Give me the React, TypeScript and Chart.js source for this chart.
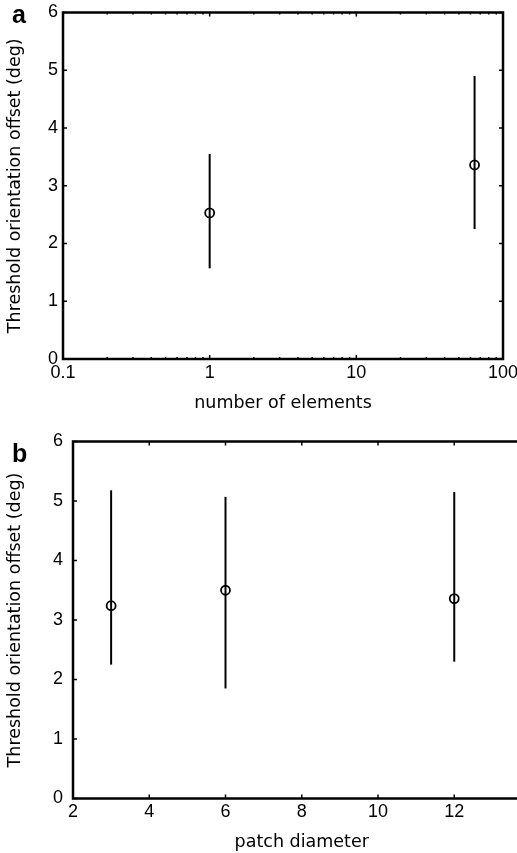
import React, { useEffect, useRef } from "react";
import { Chart, registerables } from "chart.js";

Chart.register(...registerables);

// ---------- data ----------
const nElements = [1, 64];
const offsetA = [2.53, 3.36];
const lowerA = [1.57, 2.25];
const upperA = [3.55, 4.9];
const xTickLabelsA = [0.1, 1, 10, 100];

const patchDiameter = [3, 6, 12];
const offsetB = [3.24, 3.5, 3.36];
const lowerB = [2.25, 1.85, 2.3];
const upperB = [5.18, 5.07, 5.15];
const xTickLabelsB = [2, 4, 6, 8, 10, 12, 14];

const yTickLabels = [0, 1, 2, 3, 4, 5, 6];

const Y_TITLE = "Threshold orientation offset (deg)";
const X_TITLE_A = "number of elements";
const X_TITLE_B = "patch diameter";

const TICK_FONT = { family: '"Liberation Sans", Arial, sans-serif', size: 18 };
const TITLE_FONT = { family: '"DejaVu Sans", sans-serif', size: 17.5 };

function isMajor(v: number, majors: number[]) {
  return majors.some((m) => Math.abs(m - v) < 1e-9 * Math.max(1, Math.abs(m)));
}

function makePlugin(letter: string, lx: number, ly: number, lower: number[], upper: number[], xMajors: number[]) {
  return {
    id: "frame_" + letter,
    beforeDatasetsDraw(chart: any) {
      const { ctx, scales } = chart;
      const x = scales.x;
      const y = scales.y;
      const pts = chart.data.datasets[0].data;
      ctx.save();
      ctx.strokeStyle = "#000";
      ctx.lineWidth = 2;
      pts.forEach((p: any, i: number) => {
        const px = x.getPixelForValue(p.x);
        ctx.beginPath();
        ctx.moveTo(px, y.getPixelForValue(lower[i]));
        ctx.lineTo(px, y.getPixelForValue(upper[i]));
        ctx.stroke();
      });
      ctx.restore();
    },
    afterDraw(chart: any) {
      const { ctx, chartArea: ca, scales } = chart;
      const x = scales.x;
      const y = scales.y;
      ctx.save();
      ctx.strokeStyle = "#000";
      ctx.lineWidth = 2.5;
      ctx.strokeRect(ca.left, ca.top, ca.right - ca.left, ca.bottom - ca.top);
      ctx.lineWidth = 1.5;
      x.ticks.forEach((t: any) => {
        const px = x.getPixelForValue(t.value);
        const len = isMajor(t.value, xMajors) ? 4 : 2;
        ctx.beginPath();
        ctx.moveTo(px, ca.bottom);
        ctx.lineTo(px, ca.bottom - len);
        ctx.moveTo(px, ca.top);
        ctx.lineTo(px, ca.top + len);
        ctx.stroke();
      });
      y.ticks.forEach((t: any) => {
        const py = y.getPixelForValue(t.value);
        ctx.beginPath();
        ctx.moveTo(ca.left, py);
        ctx.lineTo(ca.left + 4, py);
        ctx.moveTo(ca.right, py);
        ctx.lineTo(ca.right - 4, py);
        ctx.stroke();
      });
      ctx.fillStyle = "#000";
      ctx.font = 'bold 25px "Liberation Sans", Arial, sans-serif';
      ctx.textBaseline = "alphabetic";
      ctx.textAlign = "left";
      ctx.fillText(letter, lx, ly);
      ctx.restore();
    },
  };
}

function fixedWidth(w: number) {
  return (s: any) => {
    s.width = w;
    s.paddingLeft = 0;
    s.paddingRight = 0;
    s.paddingTop = 0;
    s.paddingBottom = 0;
  };
}
function fixedHeight(h: number) {
  return (s: any) => {
    s.height = h;
    s.paddingLeft = 0;
    s.paddingRight = 0;
    s.paddingTop = 0;
    s.paddingBottom = 0;
  };
}

function pointDataset(xs: number[], ys: number[]) {
  return {
    data: xs.map((x, i) => ({ x, y: ys[i] })),
    showLine: false,
    pointStyle: "circle",
    pointRadius: 4.5,
    pointBorderWidth: 1.8,
    pointBorderColor: "#000",
    pointBackgroundColor: "rgba(0,0,0,0)",
  };
}

function yScale(width: number, pad: number) {
  return {
    type: "linear",
    position: "left",
    min: yTickLabels[0],
    max: yTickLabels[yTickLabels.length - 1],
    afterBuildTicks: (s: any) => {
      s.ticks = yTickLabels.map((v) => ({ value: v }));
    },
    ticks: { font: TICK_FONT, color: "#000", padding: pad, autoSkip: false },
    grid: { display: false, drawTicks: false },
    border: { display: false },
    title: { display: true, text: Y_TITLE, font: TITLE_FONT, color: "#000", padding: { top: 5, bottom: 0 } },
    afterFit: fixedWidth(width),
  };
}

export default function App() {
  const refA = useRef<HTMLCanvasElement>(null);
  const refB = useRef<HTMLCanvasElement>(null);

  useEffect(() => {
    const chartA = new Chart(refA.current as HTMLCanvasElement, {
      type: "scatter",
      data: { datasets: [pointDataset(nElements, offsetA) as any] },
      options: {
        animation: false,
        responsive: false,
        events: [],
        layout: { padding: { top: 12.5, right: 14, left: 0, bottom: 0 } },
        plugins: { legend: { display: false }, tooltip: { enabled: false } },
        scales: {
          x: {
            type: "logarithmic",
            position: "bottom",
            min: xTickLabelsA[0],
            max: xTickLabelsA[xTickLabelsA.length - 1],
            afterBuildTicks: (s: any) => {
              const ticks: any[] = [];
              for (let e = -1; e < 2; e++) {
                for (let k = 1; k <= 9; k++) ticks.push({ value: k * Math.pow(10, e) });
              }
              ticks.push({ value: 100 });
              s.ticks = ticks;
            },
            ticks: {
              font: TICK_FONT,
              color: "#000",
              padding: 3,
              autoSkip: false,
              maxRotation: 0,
              callback: (v: any) => {
                const lab = xTickLabelsA.find((m) => Math.abs(m - Number(v)) < 1e-9);
                return lab !== undefined ? String(lab) : "";
              },
            },
            grid: { display: false, drawTicks: false },
            border: { display: false },
            title: { display: true, text: X_TITLE_A, font: TITLE_FONT, color: "#000", padding: { top: 0, bottom: 6 } },
            afterFit: fixedHeight(61),
          },
          y: yScale(63, 5),
        },
      } as any,
      plugins: [makePlugin("a", 12, 23, lowerA, upperA, xTickLabelsA) as any],
    });

    const chartB = new Chart(refB.current as HTMLCanvasElement, {
      type: "scatter",
      data: { datasets: [pointDataset(patchDiameter, offsetB) as any] },
      options: {
        animation: false,
        responsive: false,
        events: [],
        layout: { padding: { top: 21.5, right: 10.5, left: 0, bottom: 0 } },
        plugins: { legend: { display: false }, tooltip: { enabled: false } },
        scales: {
          x: {
            type: "linear",
            position: "bottom",
            min: xTickLabelsB[0],
            max: xTickLabelsB[xTickLabelsB.length - 1],
            afterBuildTicks: (s: any) => {
              s.ticks = xTickLabelsB.map((v) => ({ value: v }));
            },
            ticks: { font: TICK_FONT, color: "#000", padding: 3, autoSkip: false, maxRotation: 0 },
            grid: { display: false, drawTicks: false },
            border: { display: false },
            title: { display: true, text: X_TITLE_B, font: TITLE_FONT, color: "#000", padding: { top: 0, bottom: 0 } },
            afterFit: fixedHeight(54.5),
          },
          y: yScale(73, 10),
        },
      } as any,
      plugins: [makePlugin("b", 12, 42, lowerB, upperB, xTickLabelsB) as any],
    });

    return () => {
      chartA.destroy();
      chartB.destroy();
    };
  }, []);

  return (
    <div
      style={{
        position: "absolute",
        left: 0,
        top: 0,
        width: 517,
        height: 853,
        overflow: "hidden",
        background: "#fff",
      }}
    >
      <canvas ref={refA} width={517} height={420} style={{ position: "absolute", left: 0, top: 0, display: "block" }} />
      <canvas ref={refB} width={541} height={433} style={{ position: "absolute", left: 0, top: 420, display: "block" }} />
    </div>
  );
}
